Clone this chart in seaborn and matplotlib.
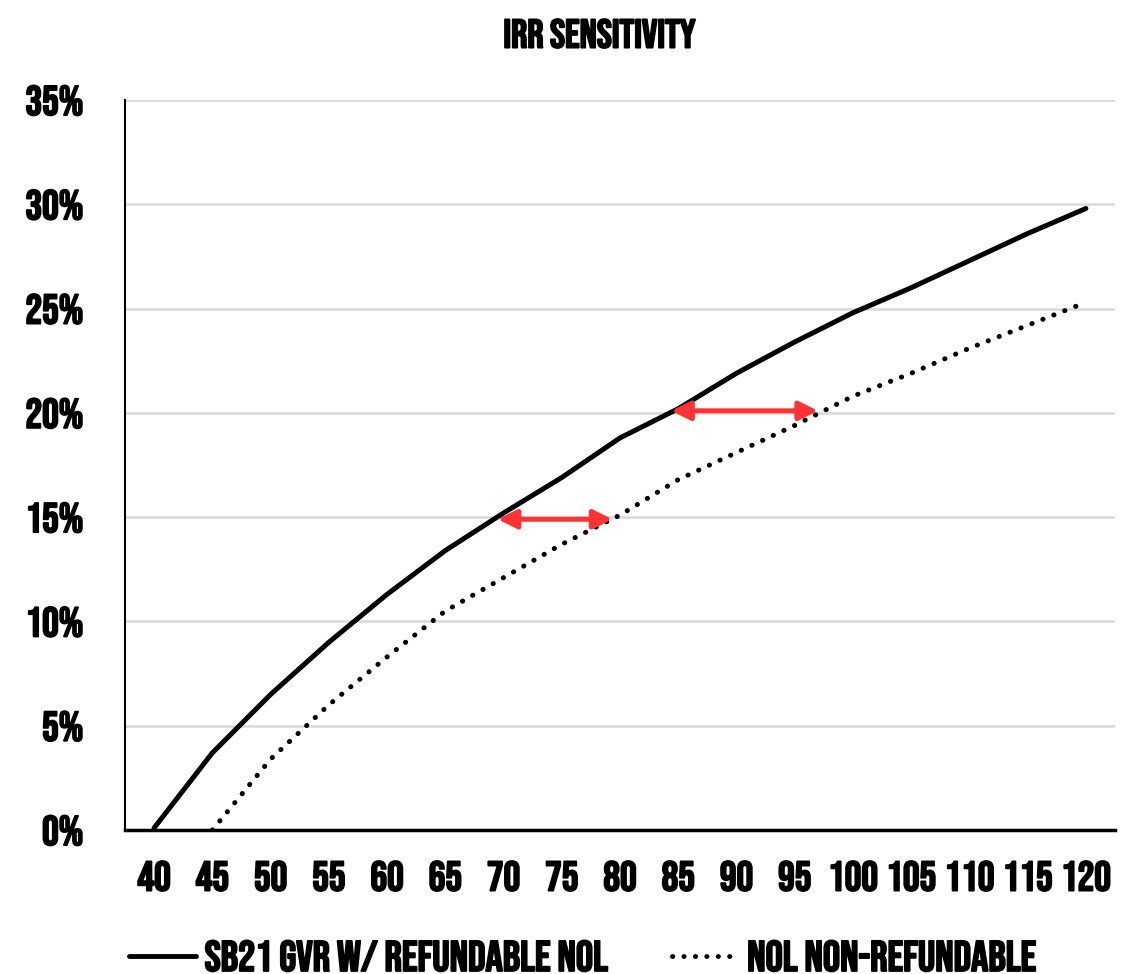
import matplotlib
matplotlib.use("Agg")
import matplotlib.pyplot as plt
import matplotlib.patheffects as pe
import seaborn as sns
import numpy as np
import pandas as pd

# ---- data ----
price = ["40", "45", "50", "55", "60", "65", "70", "75", "80",
         "85", "90", "95", "100", "105", "110", "115", "120"]
sb21_irr = [0.1, 3.7, 6.5, 9.0, 11.3, 13.4, 15.2, 16.9, 18.8,
            20.2, 21.9, 23.4, 24.8, 26.0, 27.3, 28.6, 29.8]
nol_irr = [np.nan, 0.0, 3.4, 6.0, 8.3, 10.5, 12.1, 13.7, 15.1,
           16.8, 18.1, 19.4, 20.8, 21.9, 23.1, 24.2, 25.3]
series_names = ["SB21 GVR W/ REFUNDABLE NOL", "NOL NON-REFUNDABLE"]
title = "IRR SENSITIVITY"
y_ticks = [0, 5, 10, 15, 20, 25, 30, 35]
# arrows (x category positions, y %)
arrow1 = (5.9, 7.87, 14.9)
arrow2 = (8.88, 11.4, 20.1)

df = pd.DataFrame({
    "Price": price * 2,
    "IRR": sb21_irr + nol_irr,
    "Series": [series_names[0]] * len(price) + [series_names[1]] * len(price),
})

sns.set_theme(style="white")
FAMS = ["Bebas Neue", "Oswald", "Barlow Condensed", "DejaVu Sans"]
plt.rcParams["font.family"] = FAMS
plt.rcParams["text.color"] = "black"
plt.rcParams["lines.dash_capstyle"] = "round"
plt.rcParams["lines.solid_capstyle"] = "round"

bold = [pe.withStroke(linewidth=1.3, foreground="black")]

fig = plt.figure(figsize=(11.29, 9.74), dpi=100)
ax = fig.add_axes([0.1107, 0.1478, 0.8769, 0.7495])

sns.lineplot(data=df, x="Price", y="IRR", hue="Series", style="Series",
             palette=["black", "black"],
             dashes={series_names[0]: "", series_names[1]: (0.05, 2.3)},
             linewidth=3.6, ax=ax, legend=True, sort=False)

ax.set_xlim(-0.5, len(price) - 0.5)
ax.set_ylim(0, 35)
ax.set_yticks(y_ticks)
ax.set_yticklabels([f"{v}%" for v in y_ticks])
ax.set_xticks(range(len(price)))
ax.set_xticklabels(price)
ax.yaxis.grid(True, color="#d9d9d9", linewidth=1.8)
ax.xaxis.grid(False)
ax.set_axisbelow(True)
for s in ["top", "right"]:
    ax.spines[s].set_visible(False)
ax.spines["left"].set_color("black")
ax.spines["left"].set_linewidth(1.5)
ax.spines["bottom"].set_color("black")
ax.spines["bottom"].set_linewidth(2.5)
ax.tick_params(axis="both", length=0, labelsize=30, colors="black")
ax.tick_params(axis="y", pad=30)
ax.tick_params(axis="x", pad=22)
for lab in ax.get_xticklabels() + ax.get_yticklabels():
    lab.set_path_effects(bold)
ax.set_xlabel("")
ax.set_ylabel("")

fig.text(0.531, 0.966, title, ha="center", va="center", fontsize=29,
         color="black", path_effects=bold)

for x0, x1, yv in [arrow1, arrow2]:
    ax.annotate("", xy=(x0, yv), xytext=(x1, yv),
                arrowprops=dict(arrowstyle="<|-|>", color="#ff3333", lw=3.6,
                                mutation_scale=28, shrinkA=0, shrinkB=0))

handles, labels = ax.get_legend_handles_labels()
ax.get_legend().remove()
leg = fig.legend(handles, labels, loc="center", bbox_to_anchor=(0.516, 0.019),
                 ncol=2, frameon=False, fontsize=31, handlelength=1.55,
                 handletextpad=0.2, columnspacing=1.5)
for t in leg.get_texts():
    t.set_color("black")
    t.set_path_effects(bold)
for h in leg.get_lines():
    h.set_linewidth(3.5)

fig.savefig("out.png", dpi=100, facecolor="white")
